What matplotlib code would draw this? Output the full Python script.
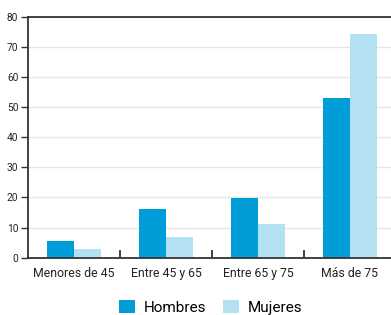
import matplotlib.pyplot as plt
import numpy as np

# data
categorias = ["Menores de 45", "Entre 45 y 65", "Entre 65 y 75", "Más de 75"]
hombres = [5.5, 16.2, 19.8, 53.0]
mujeres = [2.9, 6.9, 11.2, 74.2]
yticks = [0, 10, 20, 30, 40, 50, 60, 70, 80]

color_h = "#009dd9"
color_m = "#b3e1f3"

plt.rcParams['font.family'] = ['Roboto', 'DejaVu Sans']

fig = plt.figure(figsize=(3.91, 3.15), dpi=100)
ax = fig.add_axes([28 / 391, 57.3 / 315, 368 / 391, 241 / 315])

x = np.arange(len(categorias))
w = 0.29
ax.bar(x - w / 2, hombres, w, color=color_h, label="Hombres")
ax.bar(x + w / 2, mujeres, w, color=color_m, label="Mujeres")

ax.set_xlim(-0.5, 3.5)
ax.set_ylim(0, 80)

# grid
ax.set_yticks(yticks)
ax.yaxis.grid(True, color="#e6e6e6", linewidth=1)
ax.set_axisbelow(True)

ax.spines["right"].set_visible(False)
for s in ["left", "bottom", "top"]:
    ax.spines[s].set_color("#333333")
    ax.spines[s].set_linewidth(1.3)

ax.set_xticks(x)
ax.set_xticklabels(categorias, fontsize=8.8, color="#222222")
ax.tick_params(axis="x", length=0, pad=7)
ax.set_xticks([0.5, 1.5, 2.5], minor=True)
ax.tick_params(axis="x", which="minor", direction="in", length=6, width=1.3, color="#333333")
ax.tick_params(axis="y", length=5, width=1, color="#333333", labelsize=7.3, pad=2,
               labelcolor="#222222")

ax.legend(loc="center", bbox_to_anchor=(0.497, -0.205),
          ncol=2, frameon=False, fontsize=11, handlelength=1.0, handleheight=1.0,
          columnspacing=1.1, handletextpad=0.6)

fig.savefig("out.png", dpi=100)
